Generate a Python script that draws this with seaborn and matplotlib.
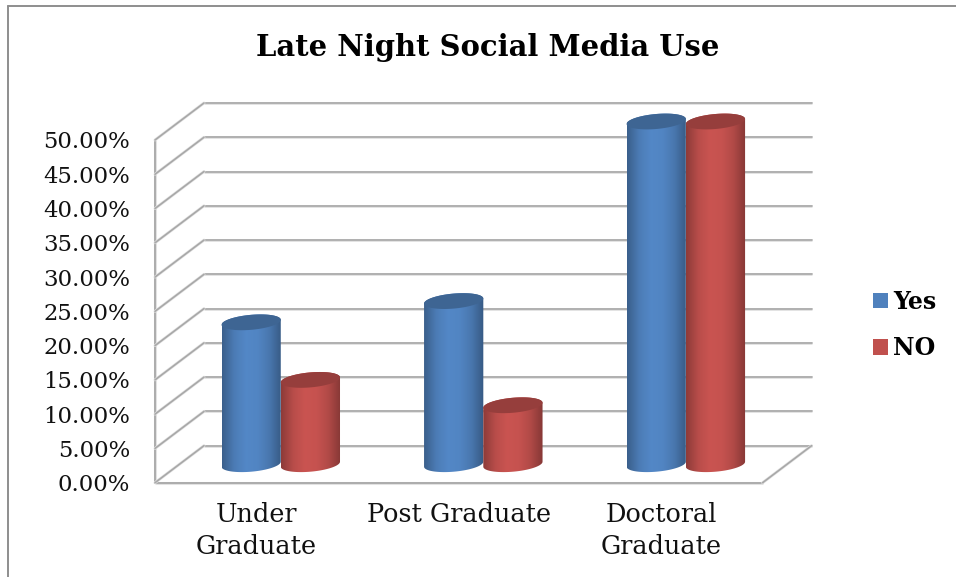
import numpy as np
import pandas as pd
import matplotlib
matplotlib.use("Agg")
import matplotlib.pyplot as plt
import seaborn as sns
from matplotlib.colors import LinearSegmentedColormap, to_rgb
from matplotlib.lines import Line2D
from matplotlib.patches import PathPatch
from matplotlib.path import Path
from matplotlib.transforms import offset_copy

categories = ["Under\nGraduate", "Post Graduate", "Doctoral\nGraduate"]
yes_values = [20.7, 23.8, 50.0]
no_values = [12.3, 8.6, 50.0]
series_names = ["Yes", "NO"]
series_colors = ["#4f81bd", "#c0504d"]
y_ticks = [0, 5, 10, 15, 20, 25, 30, 35, 40, 45, 50]
title_text = "Late Night Social Media Use"

GRID = "#a8a8a8"
GRID_SOFT = "#e2e2e2"
FONT = "DejaVu Serif"

sns.set_theme(style="white")
plt.rcParams["font.family"] = [FONT]

df = pd.DataFrame({
    "category": categories * 2,
    "share": yes_values + no_values,
    "answer": [series_names[0]] * 3 + [series_names[1]] * 3,
})

fig = plt.figure(figsize=(9.56, 5.77), dpi=100, facecolor="white")
W, H = 956, 577
ax = fig.add_axes([155 / W, (H - 482.7) / H, 607.6 / W, 342.7 / H])
ax.set_facecolor("none")

sns.barplot(data=df, x="category", y="share", hue="answer", order=categories,
            hue_order=series_names, palette=series_colors, width=0.585, gap=0,
            saturation=1, ax=ax, legend=True, linewidth=0, zorder=3)
ax.set_xlim(-0.5, 2.5)
ax.set_ylim(0, 50)
ax.set_xlabel("")
ax.set_ylabel("")

# Pseudo-3D planes: the back wall and the mid-depth plane holding the bars
back = offset_copy(ax.transData, fig=fig, x=49, y=37, units="dots")
mid = offset_copy(ax.transData, fig=fig, x=24.5, y=18.5, units="dots")
px_y = 50 / 342.7


def soft_line(xs, ys, transform, lw=1.2):
    ax.plot(xs, ys, color=GRID_SOFT, lw=lw + 0.9, transform=transform,
            clip_on=False, zorder=0.9, solid_capstyle="butt")
    ax.plot(xs, ys, color=GRID, lw=lw, transform=transform,
            clip_on=False, zorder=1, solid_capstyle="round")


def depth_line(x, y):
    start = ax.transData.transform((x, y))
    end = back.transform((x, y))
    for lw, color, z in ((2.1, GRID_SOFT, 0.9), (1.2, GRID, 1)):
        fig.add_artist(Line2D([start[0] / W, end[0] / W], [start[1] / H, end[1] / H],
                              color=color, lw=lw, zorder=z, transform=fig.transFigure,
                              solid_capstyle="round"))


for tick in y_ticks:
    soft_line([-0.5, 2.5], [tick, tick], back)
    depth_line(-0.5, tick)
depth_line(2.5, 0)
soft_line([-0.5, -0.5], [0, 50], ax.transData, lw=1.3)
soft_line([-0.5, 2.5], [0, 0], ax.transData, lw=1.3)

# Repaint every seaborn bar as a cylinder with a shaded body and a dark cap
a_shear = 2.5 * px_y
b_cap = 7.5 * px_y
theta_low = np.linspace(np.pi, 2 * np.pi, 60)
theta_high = np.linspace(0, np.pi, 60)
theta_full = np.linspace(0, 2 * np.pi, 120)
for container, color in zip(ax.containers, series_colors):
    rgb = np.array(to_rgb(color))
    cmap = LinearSegmentedColormap.from_list(
        "body", [rgb * 0.74, rgb * 0.96, rgb * 1.05, rgb * 1.03, rgb * 0.92, rgb * 0.7])
    for bar in container:
        x0, w, v = bar.get_x(), bar.get_width(), bar.get_height()
        cx, a = x0 + w / 2, w / 2
        z = 3 + x0
        bar.set_visible(False)

        outline_x = np.r_[cx + a * np.cos(theta_low), cx + a * np.cos(theta_high)]
        outline_y = np.r_[b_cap * np.sin(theta_low) + a_shear * np.cos(theta_low),
                          v + b_cap * np.sin(theta_high) + a_shear * np.cos(theta_high)]
        outline = PathPatch(Path(np.c_[outline_x, outline_y]), transform=mid,
                            facecolor="none", edgecolor="none", clip_on=False)
        ax.add_patch(outline)

        body = ax.imshow(np.linspace(0, 1, 64)[None, :], cmap=cmap, aspect="auto",
                         extent=[x0, x0 + w, -3, v + 3], transform=mid, zorder=z,
                         interpolation="bilinear")
        # The cylinders stand in front of the axes box, so widen the image clip
        body.set_clip_box(fig.bbox)
        body.set_clip_path(outline)

        cap_xy = np.c_[cx + a * np.cos(theta_full),
                       v + b_cap * np.sin(theta_full) + a_shear * np.cos(theta_full)]
        ax.add_patch(PathPatch(Path(cap_xy), transform=mid, facecolor=rgb * 0.78,
                               edgecolor="none", zorder=z + 0.01, clip_on=False))

ax.set_xlim(-0.5, 2.5)
ax.set_ylim(0, 50)
ax.set_yticks(y_ticks, [f"{t:.2f}%" for t in y_ticks])
sns.despine(ax=ax, left=True, bottom=True)
ax.tick_params(axis="y", length=0, pad=18, labelsize=16.4, labelcolor="#111111")
ax.tick_params(axis="x", length=0, pad=14, labelsize=18.4, labelcolor="#111111")
for label in ax.get_xticklabels():
    label.set_linespacing(1.33)

sns.move_legend(ax, loc="center left", bbox_to_anchor=(873 / W, (H - 325) / H),
                bbox_transform=fig.transFigure, title=None, frameon=False, ncol=1,
                handlelength=0.62, handleheight=0.62, handletextpad=0.24,
                labelspacing=0.95, borderpad=0, borderaxespad=0,
                prop={"family": FONT, "weight": "bold", "size": 17})
for text in ax.get_legend().get_texts():
    text.set_color("black")

fig.text(488 / W, (H - 48) / H, title_text, ha="center", va="center",
         fontsize=20.9, fontweight="bold", color="black")

# Chart-area border, cropped at the top right
for xs, ys in (([8, W], [5.5, 5.5]), ([8, 8], [5.5, H])):
    fig.add_artist(Line2D(np.array(xs) / W, 1 - np.array(ys) / H, color="#8e8e8e",
                          lw=1.4, transform=fig.transFigure))

fig.savefig("out.png", dpi=100, facecolor="white")
